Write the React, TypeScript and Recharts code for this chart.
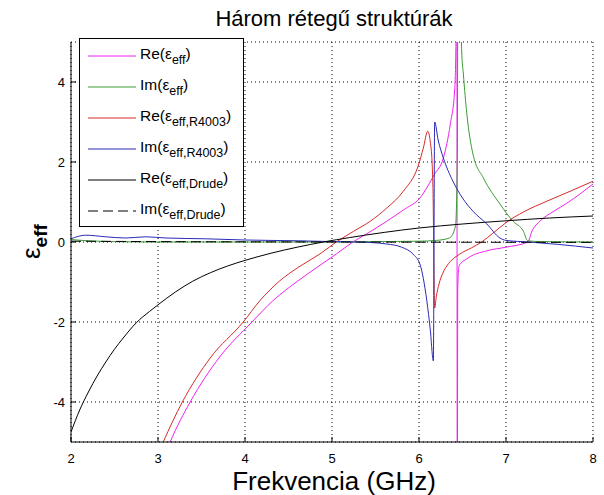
import React from "react";
import { LineChart, Line, XAxis, YAxis, CartesianGrid, Label } from "recharts";

type Pt = { f: number; v: number };
const pts = (a: number[][]): Pt[] => a.map(([f, v]) => ({ f, v }));

const xTicks = [2, 3, 4, 5, 6, 7, 8];
const yTicks = [-4, -2, 0, 2, 4];

// Re(eps_eff) - magenta
const reEff = pts([
  [3.0, -5.8], [3.14, -5], [3.37, -4], [3.7, -2.9], [4.08, -2], [4.32, -1.47], [4.61, -0.97],
  [4.85, -0.6], [5.05, -0.3], [5.24, 0], [5.45, 0.27], [5.63, 0.52], [5.82, 0.8], [6.01, 1.1],
  [6.18, 1.7], [6.28, 2.1], [6.36, 2.95], [6.41, 3.8], [6.425, 5], [6.435, 9], [6.44, -9],
  [6.445, -1.2], [6.46, -0.6], [6.55, -0.42], [6.78, -0.22], [7.0, -0.13], [7.25, 0],
  [7.3, 0.28], [7.39, 0.52], [7.55, 0.77], [7.7, 0.97], [7.85, 1.2], [8, 1.45],
]);

// Im(eps_eff) - green
const imEff = pts([
  [2, 0.06], [2.2, 0.03], [2.5, 0.01], [3, 0], [4, 0], [5, 0], [5.5, 0.01], [6.0, 0.02],
  [6.2, 0.04], [6.35, 0.1], [6.42, 0.4], [6.44, 2], [6.45, 9], [6.475, 9], [6.49, 4.8],
  [6.51, 4.2], [6.55, 3.2], [6.62, 2.2], [6.74, 1.6], [6.93, 0.95], [7.08, 0.52], [7.2, 0.27],
  [7.25, 0.03], [7.4, 0.01], [8, 0],
]);

// Re(eps_eff,R4003) - red
const reR4003 = pts([
  [3.0, -5.3], [3.06, -5], [3.28, -4], [3.6, -2.9], [3.98, -2], [4.17, -1.47], [4.4, -0.97],
  [4.6, -0.65], [4.86, -0.3], [5.05, 0], [5.25, 0.27], [5.44, 0.52], [5.63, 0.85], [5.82, 1.27],
  [5.99, 1.9], [6.05, 2.35], [6.1, 2.77], [6.13, 2.5], [6.15, 2.0], [6.16, 1.4], [6.18, -1.65],
  [6.2, -1.35], [6.23, -1.05], [6.28, -0.75], [6.32, -0.6], [6.47, -0.3], [6.6, -0.15],
  [6.72, 0], [6.85, 0.22], [7.01, 0.5], [7.2, 0.75], [7.47, 1.02], [7.75, 1.28], [8, 1.52],
]);

// Im(eps_eff,R4003) - blue
const imR4003 = pts([
  [2, 0.08], [2.17, 0.17], [2.4, 0.13], [2.63, 0.1], [2.86, 0.13], [3.09, 0.1], [3.55, 0.08],
  [4.0, 0.05], [4.62, 0.03], [5.0, 0.01], [5.3, 0], [5.63, -0.05], [5.8, -0.13], [5.93, -0.3],
  [6.01, -0.55], [6.09, -1.47], [6.13, -2.2], [6.165, -2.97], [6.18, 3.0], [6.22, 2.55],
  [6.28, 2.1], [6.39, 1.52], [6.5, 1.1], [6.62, 0.77], [6.78, 0.45], [6.93, 0.1], [7.0, 0.04],
  [7.26, 0], [7.6, -0.06], [8, -0.15],
]);

// Re(eps_eff,Drude) - black
const reDrude = pts([
  [2.0, -4.75], [2.1, -4.2], [2.2, -3.75], [2.3, -3.35], [2.4, -3.0], [2.5, -2.68], [2.6, -2.4],
  [2.75, -2.02], [2.9, -1.74], [3.0, -1.57], [3.2, -1.25], [3.4, -0.98], [3.6, -0.77],
  [3.8, -0.6], [4.0, -0.46], [4.3, -0.28], [4.6, -0.13], [4.9, 0], [5.2, 0.11], [5.6, 0.24],
  [6.0, 0.35], [6.5, 0.45], [7.0, 0.53], [7.5, 0.6], [8, 0.65],
]);

// Im(eps_eff,Drude) - black dashed
const imDrude = pts([[2, 0.02], [3, 0.01], [5, 0], [8, -0.01]]);

const FONT = "'Liberation Sans', Arial, sans-serif";

const series = [
  { id: "reEff", data: reEff, color: "#ee22ee", pre: "Re", sub: "eff", dash: undefined },
  { id: "imEff", data: imEff, color: "#3d9b35", pre: "Im", sub: "eff", dash: undefined },
  { id: "reR4003", data: reR4003, color: "#d62a2a", pre: "Re", sub: "eff,R4003", dash: undefined },
  { id: "imR4003", data: imR4003, color: "#2a2ab8", pre: "Im", sub: "eff,R4003", dash: undefined },
  { id: "reDrude", data: reDrude, color: "#000000", pre: "Re", sub: "eff,Drude", dash: undefined },
  { id: "imDrude", data: imDrude, color: "#000000", pre: "Im", sub: "eff,Drude", dash: "10 5" },
];

const XTick = (props: any) => {
  const { x, y, payload } = props;
  const axisY = y - 8;
  return (
    <g>
      <line x1={x} x2={x} y1={axisY} y2={axisY - 5} stroke="#000" />
      <text x={x} y={y + 13} textAnchor="middle" fontSize={13} fontFamily={FONT} fill="#000">
        {payload.value}
      </text>
    </g>
  );
};

const YTick = (props: any) => {
  const { x, y, payload } = props;
  const axisX = x + 6;
  return (
    <g>
      <line x1={axisX} x2={axisX + 5} y1={y} y2={y} stroke="#000" />
      <text x={x} y={y + 5} textAnchor="end" fontSize={13} fontFamily={FONT} fill="#000">
        {payload.value}
      </text>
    </g>
  );
};

function LegendBox() {
  return (
    <div
      style={{
        position: "absolute", left: 79, top: 38, width: 165, height: 189,
        boxSizing: "border-box", border: "1px solid #000", background: "#fff",
        paddingTop: 2, fontFamily: FONT,
      }}
    >
      {series.map((s) => (
        <div key={s.id} style={{ position: "relative", height: 31 }}>
          <svg width={50} height={31} style={{ position: "absolute", left: 8, top: 0 }}>
            <line x1={0} x2={48} y1={15} y2={15} stroke={s.color} strokeDasharray={s.dash} />
          </svg>
          <span style={{ position: "absolute", left: 60, top: 5, fontSize: 15.5, lineHeight: "15px", whiteSpace: "nowrap" }}>
            {s.pre}(ε
            <span style={{ fontSize: 12.5, position: "relative", top: 5 }}>{s.sub}</span>)
          </span>
        </div>
      ))}
    </div>
  );
}

export default function App() {
  return (
    <div style={{ position: "absolute", left: 0, top: 0, width: 604, height: 495, background: "#fff" }}>
      <div
        style={{
          position: "absolute", left: 134, width: 400, top: 7, textAlign: "center",
          fontFamily: FONT, fontSize: 22, lineHeight: "24px", color: "#000",
        }}
      >
        Három rétegű struktúrák
      </div>
      <LineChart width={604} height={495} margin={{ top: 42, right: 11, bottom: 23, left: 0 }}>
        <CartesianGrid stroke="#000" strokeDasharray="1 3" />
        <XAxis
          type="number" dataKey="f" domain={[2, 8]} ticks={xTicks} allowDataOverflow
          height={30} tickLine={false} tickSize={0} tickMargin={8} tick={<XTick />}
          axisLine={{ stroke: "#000" }}
        >
          <Label
            content={() => (
              <text x={334} y={490} textAnchor="middle" fontSize={26} fontFamily={FONT} fill="#000">
                Frekvencia (GHz)
              </text>
            )}
          />
        </XAxis>
        <YAxis
          type="number" dataKey="v" domain={[-5, 5]} ticks={yTicks} allowDataOverflow
          width={71} tickLine={false} tickSize={0} tickMargin={6} tick={<YTick />}
          axisLine={{ stroke: "#000" }}
        >
          <Label
            content={() => (
              <text transform="translate(40,259) rotate(-90)" fontFamily={FONT} fill="#000">
                <tspan fontSize={26}>ε</tspan>
                <tspan fontSize={19} fontWeight="bold" dy={7}>eff</tspan>
              </text>
            )}
          />
        </YAxis>
        {series.map((s) => (
          <Line
            key={s.id} data={s.data} dataKey="v" type="monotone" stroke={s.color} strokeWidth={1}
            strokeDasharray={s.dash} dot={false} activeDot={false} isAnimationActive={false}
          />
        ))}
      </LineChart>
      <LegendBox />
    </div>
  );
}
